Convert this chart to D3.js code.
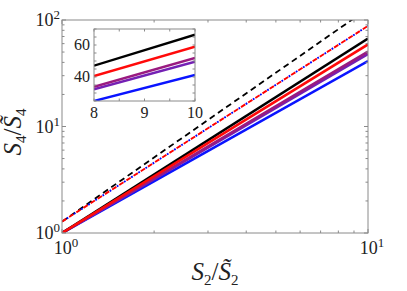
<!DOCTYPE html>
<html><head><meta charset="utf-8">
<script src="https://cdn.jsdelivr.net/npm/d3@7"></script>
<style>body{margin:0;background:#fff}svg{display:block}text{font-family:"Liberation Serif","DejaVu Serif",serif;fill:#222}</style>
</head><body><svg id="c" width="407" height="291"></svg>
<script>
// Data
const mainX = [1, 10];
const solidNames = ["blue", "violet", "plum", "black", "red"];
const solidColors = ["#0a14ff", "#7420b4", "#9a1a80", "#000000", "#ff0a0a"];
const solidMain = [[1, 41.2], [1, 47.9], [1, 50.4], [1, 67], [1, 59]];
const dashedY = [1.28, 128];      // black dashed reference (slope 2)
const dashDotY = [1.28, 88];      // red/blue dash-dot reference
const insetX = [8, 10];
const solidInset = [[25, 41.3], [32.3, 49.6], [33.9, 51.9], [47.1, 66.4], [40.6, 58.9]];
const xTickLabels = ["0", "1"];
const yTickLabels = ["0", "1", "2"];
const insetXTicks = [8, 9, 10];
const insetYTicks = [40, 60];

const svg = d3.select("#c");
const L = 62, R = 368, T = 20, B = 233;
const x = d3.scaleLog().domain([1, 10]).range([L, R]);
const y = d3.scaleLog().domain([1, 100]).range([B, T]);
const axisCol = "#8a8a8a";

svg.append("clipPath").attr("id", "clipMain").append("rect")
  .attr("x", L).attr("y", T).attr("width", R - L).attr("height", B - T);

const g = svg.append("g").attr("clip-path", "url(#clipMain)");
const line = d3.line().x(d => x(d[0])).y(d => y(d[1]));

// reference lines
g.append("path").datum(mainX.map((v, i) => [v, dashedY[i]])).attr("d", line)
  .attr("fill", "none").attr("stroke", "#000").attr("stroke-width", 1.8).attr("stroke-dasharray", "6 4");
const ddData = mainX.map((v, i) => [v, dashDotY[i]]);
g.append("path").datum(ddData).attr("d", line)
  .attr("fill", "none").attr("stroke", "#ff0000").attr("stroke-width", 1.9).attr("stroke-dasharray", "5 3.5");
g.append("path").datum(ddData).attr("d", line)
  .attr("fill", "none").attr("stroke", "#0000ff").attr("stroke-width", 1.9).attr("stroke-dasharray", "1.8 6.7").attr("stroke-dashoffset", 2.9);

solidMain.forEach((s, i) => {
  g.append("path").datum(mainX.map((v, j) => [v, s[j]])).attr("d", line)
    .attr("fill", "none").attr("stroke", solidColors[i]).attr("stroke-width", 2.6);
});

// Main axes frame and ticks
const ax = svg.append("g");
ax.append("rect").attr("x", L).attr("y", T).attr("width", R - L).attr("height", B - T)
  .attr("fill", "none").attr("stroke", axisCol).attr("stroke-width", 1);
const xt = [];
for (let d = 1; d <= 10; d++) xt.push(d);
xt.forEach(v => {
  const len = (v === 1 || v === 10) ? 4 : 2.5;
  ax.append("line").attr("x1", x(v)).attr("x2", x(v)).attr("y1", B).attr("y2", B - len).attr("stroke", axisCol);
  ax.append("line").attr("x1", x(v)).attr("x2", x(v)).attr("y1", T).attr("y2", T + len).attr("stroke", axisCol);
});
const yt = [];
[1, 10].forEach(dec => { for (let m = 1; m <= 9; m++) yt.push(dec * m); });
yt.push(100);
yt.forEach(v => {
  const len = (v === 1 || v === 10 || v === 100) ? 4 : 2.5;
  ax.append("line").attr("y1", y(v)).attr("y2", y(v)).attr("x1", L).attr("x2", L + len).attr("stroke", axisCol);
  ax.append("line").attr("y1", y(v)).attr("y2", y(v)).attr("x1", R).attr("x2", R - len).attr("stroke", axisCol);
});

function pow10(sel, e) {
  sel.append("tspan").text("10");
  sel.append("tspan").attr("dy", -7).attr("font-size", 13).text(e);
}
[1, 10].forEach((v, i) => {
  const t = svg.append("text").attr("x", x(v) + 4).attr("y", B + 21).attr("text-anchor", "middle").attr("font-size", 18);
  pow10(t, xTickLabels[i]);
});
[1, 10, 100].forEach((v, i) => {
  const t = svg.append("text").attr("x", L - 2).attr("y", y(v) + 6).attr("text-anchor", "end").attr("font-size", 18);
  pow10(t, yTickLabels[i]);
});

// axis labels
function ratioLabel(sel, sub) {
  sel.append("tspan").attr("font-style", "italic").text("S");
  sel.append("tspan").attr("dy", 5).attr("font-size", 15).text(sub);
  sel.append("tspan").attr("dy", -5).text("/");
  sel.append("tspan").attr("font-style", "italic").text("S\u0303");
  sel.append("tspan").attr("dy", 5).attr("font-size", 15).text(sub);
}
ratioLabel(svg.append("text").attr("x", 215).attr("y", 280).attr("text-anchor", "middle").attr("font-size", 25), "2");
ratioLabel(svg.append("text").attr("transform", "translate(21,132) rotate(-90)").attr("text-anchor", "middle").attr("font-size", 25), "4");

// Inset
const iL = 94, iR = 195, iT = 29, iB = 101;
const ix = d3.scaleLinear().domain([8, 10]).range([iL, iR]);
const iy = d3.scaleLinear().domain([25, 70]).range([iB, iT]);
svg.append("rect").attr("x", iL).attr("y", iT).attr("width", iR - iL).attr("height", iB - iT).attr("fill", "#fff");
svg.append("clipPath").attr("id", "clipIn").append("rect")
  .attr("x", iL).attr("y", iT).attr("width", iR - iL).attr("height", iB - iT);
const gi = svg.append("g").attr("clip-path", "url(#clipIn)");
const iline = d3.line().x(d => ix(d[0])).y(d => iy(d[1]));
solidInset.forEach((s, i) => {
  gi.append("path").datum(insetX.map((v, j) => [v, s[j]])).attr("d", iline)
    .attr("fill", "none").attr("stroke", solidColors[i]).attr("stroke-width", 2.4);
});
svg.append("rect").attr("x", iL).attr("y", iT).attr("width", iR - iL).attr("height", iB - iT)
  .attr("fill", "none").attr("stroke", axisCol);
d3.range(8, 10.01, 0.5).forEach(v => {
  svg.append("line").attr("x1", ix(v)).attr("x2", ix(v)).attr("y1", iB).attr("y2", iB - 2.5).attr("stroke", axisCol);
  svg.append("line").attr("x1", ix(v)).attr("x2", ix(v)).attr("y1", iT).attr("y2", iT + 2.5).attr("stroke", axisCol);
});
d3.range(25, 70.1, 5).forEach(v => {
  svg.append("line").attr("y1", iy(v)).attr("y2", iy(v)).attr("x1", iL).attr("x2", iL + 2.5).attr("stroke", axisCol);
  svg.append("line").attr("y1", iy(v)).attr("y2", iy(v)).attr("x1", iR).attr("x2", iR - 2.5).attr("stroke", axisCol);
});
insetXTicks.forEach(v => {
  svg.append("text").attr("x", ix(v)).attr("y", iB + 17).attr("text-anchor", "middle").attr("font-size", 16).text(v);
});
insetYTicks.forEach(v => {
  svg.append("text").attr("x", iL - 4).attr("y", iy(v) + 5).attr("text-anchor", "end").attr("font-size", 16).text(v);
});
</script></body></html>
